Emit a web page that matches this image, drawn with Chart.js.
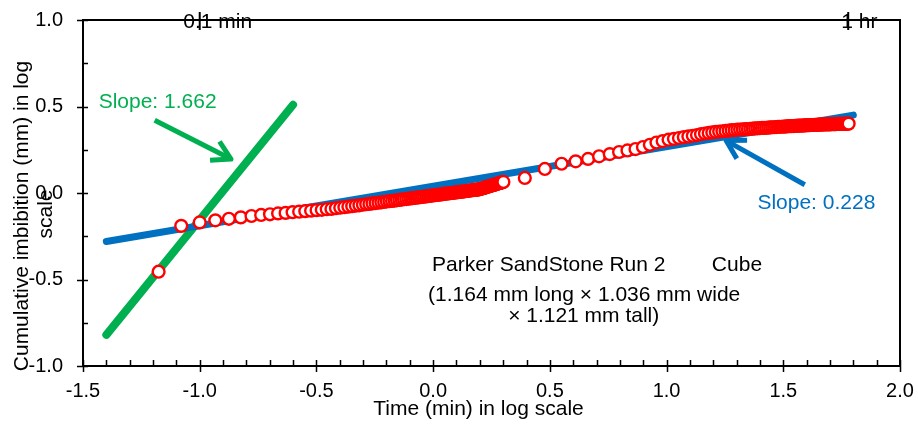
<!DOCTYPE html>
<html>
<head>
<meta charset="utf-8">
<script src="https://cdn.jsdelivr.net/npm/chart.js@4.4.1/dist/chart.umd.min.js"></script>
<style>
  html, body { margin: 0; padding: 0; background: #fff; }
  #wrap { width: 918px; height: 424px; }
</style>
</head>
<body>
<div id="wrap"><canvas id="imbChart"></canvas></div>
<script>
// early readings, logged every second (time in s)
const earlyTimeSec = [
  4, 5, 6, 7, 8, 9, 10, 11, 12, 13, 14, 15, 16, 17, 18, 19, 20, 21, 22, 23,
  24, 25, 26, 27, 28, 29, 30, 31, 32, 33, 34, 35, 36, 37, 38, 39, 40, 41, 42, 43,
  44, 45, 46, 47, 48, 49, 50, 51, 52, 53, 54, 55, 56, 57, 58, 59, 60, 61, 62, 63,
  64, 65, 66, 67, 68, 69, 70, 71, 72, 73, 74, 75, 76, 77, 78, 79, 80, 81, 82, 83,
  84, 85, 86, 87, 88, 89, 90, 91, 92, 93, 94, 95, 96, 97, 98, 99, 100, 101, 102, 103,
  104, 105, 106, 107, 108, 109, 110, 111, 112, 113, 114, 115, 116, 117, 118, 119, 120
];
// log10 of cumulative imbibition (mm)
const earlyImbLog = [
  -0.455, -0.190, -0.170, -0.158, -0.149, -0.141, -0.133, -0.127, -0.123, -0.118,
  -0.115, -0.111, -0.108, -0.105, -0.102, -0.099, -0.097, -0.094, -0.092, -0.088,
  -0.085, -0.082, -0.079, -0.076, -0.073, -0.071, -0.068, -0.065, -0.063, -0.060,
  -0.058, -0.056, -0.054, -0.052, -0.049, -0.047, -0.046, -0.044, -0.042, -0.040,
  -0.038, -0.036, -0.035, -0.033, -0.031, -0.030, -0.028, -0.027, -0.025, -0.024,
  -0.022, -0.021, -0.019, -0.018, -0.017, -0.015, -0.014, -0.013, -0.011, -0.010,
  -0.009, -0.008, -0.007, -0.005, -0.004, -0.003, -0.002, -0.001, 0.000, 0.001,
  0.002, 0.003, 0.005, 0.005, 0.007, 0.007, 0.008, 0.009, 0.010, 0.011,
  0.012, 0.013, 0.014, 0.015, 0.016, 0.017, 0.018, 0.018, 0.019, 0.020,
  0.021, 0.022, 0.024, 0.026, 0.027, 0.029, 0.031, 0.033, 0.035, 0.037,
  0.038, 0.040, 0.042, 0.043, 0.045, 0.047, 0.048, 0.050, 0.052, 0.053,
  0.055, 0.057, 0.058, 0.059, 0.061, 0.062, 0.064
];

// later readings (time in min)
const lateTimeMin = [
  2.47, 3.01, 3.55, 4.08, 4.61, 5.14, 5.71, 6.26, 6.8, 7.36, 7.92, 8.48, 9.05, 9.62, 10.2,
  10.75, 11.3, 11.85, 12.4, 12.95, 13.5, 14.05, 14.6, 15.15, 15.7, 16.25, 16.8, 17.35, 17.9,
  18.45, 19.0, 19.55, 20.1, 20.65, 21.2, 21.75, 22.3, 22.85, 23.4, 23.95, 24.5, 25.05, 25.6,
  26.15, 26.7, 27.25, 27.8, 28.35, 28.9, 29.45, 30.0, 30.55, 31.1, 31.65, 32.2, 32.75, 33.3,
  33.85, 34.4, 34.95, 35.5, 36.05, 36.6, 37.15, 37.7, 38.25, 38.8, 39.35, 39.9, 40.45, 41.0,
  41.55, 42.1, 42.65, 43.2, 43.75, 44.3, 44.85, 45.4, 45.95, 46.5, 47.05, 47.6, 48.15, 48.7,
  49.25, 49.8, 50.35, 50.9, 51.45, 52.0, 52.55, 53.1, 53.65, 54.2, 54.75, 55.3, 55.85, 56.4,
  56.95, 57.5, 58.05, 58.6, 59.15, 59.7, 60.25
];
const lateImbLog = [
  0.087, 0.139, 0.169, 0.183, 0.197, 0.212, 0.225, 0.237, 0.246, 0.254, 0.266, 0.279, 0.292, 0.300, 0.308,
  0.313, 0.318, 0.323, 0.327, 0.331, 0.335, 0.340, 0.344, 0.347, 0.350, 0.353, 0.355, 0.357, 0.359,
  0.361, 0.363, 0.364, 0.366, 0.367, 0.368, 0.369, 0.370, 0.371, 0.372, 0.373, 0.374, 0.375, 0.376,
  0.377, 0.377, 0.378, 0.379, 0.380, 0.380, 0.381, 0.382, 0.383, 0.383, 0.384, 0.384, 0.385, 0.386,
  0.386, 0.387, 0.387, 0.388, 0.388, 0.389, 0.389, 0.390, 0.390, 0.391, 0.391, 0.392, 0.392, 0.392,
  0.393, 0.393, 0.393, 0.394, 0.394, 0.394, 0.395, 0.395, 0.395, 0.396, 0.396, 0.396, 0.396, 0.397,
  0.397, 0.397, 0.397, 0.398, 0.398, 0.398, 0.398, 0.398, 0.399, 0.399, 0.399, 0.399, 0.399, 0.400,
  0.400, 0.400, 0.400, 0.400, 0.401, 0.401, 0.401
];

// straight-line fits (log time, log imbibition)
const earlyFitX = [-1.4, -0.6];
const earlyFitY = [-0.82, 0.51];
const lateFitX = [-1.4, 1.8];
const lateFitY = [-0.28, 0.45];

// axis ticks
const xTickValues = [-1.5, -1.0, -0.5, 0.0, 0.5, 1.0, 1.5, 2.0];
const yTickValues = [-1.0, -0.5, 0.0, 0.5, 1.0];
// reference marks on the top edge (time in min)
const markTimeMin = [0.1, 60];
const markLabels = ['0.1 min', '1 hr'];

const GREEN = '#00B050';
const BLUE = '#0070C0';
const RED = '#FF0000';
const FONT = '"Liberation Sans", Arial, sans-serif';

Chart.defaults.font.family = FONT;
Chart.defaults.font.size = 20;
Chart.defaults.color = '#000';

const points = [];
earlyTimeSec.forEach((t, i) => points.push({ x: Math.log10(t / 60), y: earlyImbLog[i] }));
lateTimeMin.forEach((t, i) => points.push({ x: Math.log10(t), y: lateImbLog[i] }));

const toXY = (xs, ys) => xs.map((x, i) => ({ x, y: ys[i] }));

function drawArrow(ctx, from, to, color) {
  const [x1, y1] = from;
  const [x2, y2] = to;
  const a = Math.atan2(y2 - y1, x2 - x1);
  const head = 21;
  const spread = Math.PI / 6;
  ctx.save();
  ctx.strokeStyle = color;
  ctx.lineWidth = 5;
  ctx.lineJoin = 'round';
  ctx.beginPath();
  ctx.moveTo(x1, y1);
  ctx.lineTo(x2, y2);
  ctx.stroke();
  ctx.beginPath();
  ctx.moveTo(x2 - head * Math.cos(a - spread), y2 - head * Math.sin(a - spread));
  ctx.lineTo(x2, y2);
  ctx.lineTo(x2 - head * Math.cos(a + spread), y2 - head * Math.sin(a + spread));
  ctx.stroke();
  ctx.restore();
}

// keep the plot box where the original has it (no extra room for edge labels)
const noEdgePad = (s) => {
  s.paddingTop = 0; s.paddingBottom = 0; s.paddingLeft = 0; s.paddingRight = 0;
};

const decorations = {
  id: 'decorations',
  beforeDatasetsDraw(chart) {
    const { ctx, scales: { x, y } } = chart;
    const p = (vx, vy) => [x.getPixelForValue(vx), y.getPixelForValue(vy)];
    drawArrow(ctx, p(-1.193, 0.42), p(-0.866, 0.196), GREEN);
    drawArrow(ctx, p(1.592, 0.048), p(1.255, 0.303), BLUE);
  },
  afterDatasetsDraw(chart) {
    const { ctx, scales: { x, y } } = chart;
    ctx.save();
    ctx.font = '21px ' + FONT;
    ctx.textBaseline = 'middle';
    ctx.textAlign = 'left';
    ctx.fillStyle = GREEN;
    ctx.fillText('Slope: 1.662', x.getPixelForValue(-1.433), y.getPixelForValue(0.522));
    ctx.fillStyle = BLUE;
    ctx.fillText('Slope: 0.228', x.getPixelForValue(1.389), y.getPixelForValue(-0.058));
    ctx.fillStyle = '#000';
    ctx.fillText('Parker SandStone Run 2', x.getPixelForValue(-0.005), y.getPixelForValue(-0.42));
    ctx.fillText('Cube', x.getPixelForValue(1.194), y.getPixelForValue(-0.42));
    ctx.textAlign = 'center';
    ctx.fillText('(1.164 mm long \u00d7 1.036 mm wide', x.getPixelForValue(0.647), y.getPixelForValue(-0.59));
    ctx.fillText('\u00d7 1.121 mm tall)', x.getPixelForValue(0.645), y.getPixelForValue(-0.715));
    ctx.restore();
  },
  afterDraw(chart) {
    const { ctx, chartArea: ca, scales: { x, y } } = chart;
    ctx.save();
    ctx.strokeStyle = '#000';
    // top and right frame lines
    ctx.lineWidth = 2;
    ctx.beginPath();
    ctx.moveTo(ca.left, ca.top);
    ctx.lineTo(ca.right, ca.top);
    ctx.lineTo(ca.right, ca.bottom);
    ctx.stroke();
    // minor / major tick marks
    ctx.lineWidth = 1.5;
    ctx.beginPath();
    for (let i = 0; i <= 35; i++) {
      const px = Math.round(x.getPixelForValue(-1.5 + i * 0.1)) + 0.5;
      const major = i % 5 === 0;
      ctx.moveTo(px, ca.bottom - 6);
      ctx.lineTo(px, ca.bottom + (major ? 6 : 0));
    }
    for (let i = 0; i <= 8; i++) {
      const py = Math.round(y.getPixelForValue(-1 + i * 0.25)) + 0.5;
      const major = i % 2 === 0;
      ctx.moveTo(ca.left + 5, py);
      ctx.lineTo(ca.left - (major ? 6 : 0), py);
    }
    ctx.stroke();
    // time marks on the top edge
    ctx.lineWidth = 2;
    ctx.font = '21px ' + FONT;
    ctx.fillStyle = '#000';
    ctx.textBaseline = 'middle';
    ctx.textAlign = 'left';
    const shift = [-16.5, -7];
    markTimeMin.forEach((t, i) => {
      const px = x.getPixelForValue(Math.log10(t));
      ctx.beginPath();
      ctx.moveTo(px, ca.top - 8);
      ctx.lineTo(px, ca.top + 10);
      ctx.stroke();
      ctx.fillText(markLabels[i], px + shift[i], ca.top + 2);
    });
    // axis titles
    ctx.textAlign = 'center';
    ctx.fillText('Time (min) in log scale', 478.5, 409);
    ctx.translate(22.5, 216);
    ctx.rotate(-Math.PI / 2);
    ctx.fillText('Cumulative imbibition (mm) in log', 0, 0);
    ctx.fillText('scale', 2, 23.5);
    ctx.restore();
  }
};

new Chart(document.getElementById('imbChart'), {
  type: 'scatter',
  data: {
    datasets: [
      {
        label: 'Parker SandStone Run 2',
        data: points,
        pointRadius: 5.9,
        pointBorderWidth: 2.4,
        pointBackgroundColor: '#fff',
        pointBorderColor: RED,
        showLine: false,
      },
      {
        label: 'late fit',
        data: toXY(lateFitX, lateFitY),
        showLine: true,
        borderColor: BLUE,
        borderWidth: 7,
        borderCapStyle: 'round',
        pointRadius: 0,
      },
      {
        label: 'early fit',
        data: toXY(earlyFitX, earlyFitY),
        showLine: true,
        borderColor: GREEN,
        borderWidth: 8,
        borderCapStyle: 'round',
        pointRadius: 0,
      },
    ],
  },
  options: {
    responsive: true,
    maintainAspectRatio: false,
    animation: false,
    layout: { padding: { top: 20, right: 18, left: 0, bottom: 0 } },
    plugins: {
      legend: { display: false },
      tooltip: { enabled: false },
    },
    scales: {
      x: {
        type: 'linear',
        min: -1.5,
        max: 2.0,
        afterBuildTicks: (s) => { s.ticks = xTickValues.map((v) => ({ value: v })); },
        afterFit: (s) => { s.height = 58; noEdgePad(s); },
        ticks: { callback: (v) => v.toFixed(1), padding: 13, maxRotation: 0, autoSkip: false },
        grid: { display: false, drawTicks: false },
        border: { display: true, color: '#000', width: 2 },
      },
      y: {
        type: 'linear',
        min: -1.0,
        max: 1.0,
        afterBuildTicks: (s) => { s.ticks = yTickValues.map((v) => ({ value: v })); },
        afterFit: (s) => { s.width = 83; noEdgePad(s); },
        ticks: { callback: (v) => v.toFixed(1), padding: 20 },
        grid: { display: false, drawTicks: false },
        border: { display: true, color: '#000', width: 2 },
      },
    },
  },
  plugins: [decorations],
});
</script>
</body>
</html>
